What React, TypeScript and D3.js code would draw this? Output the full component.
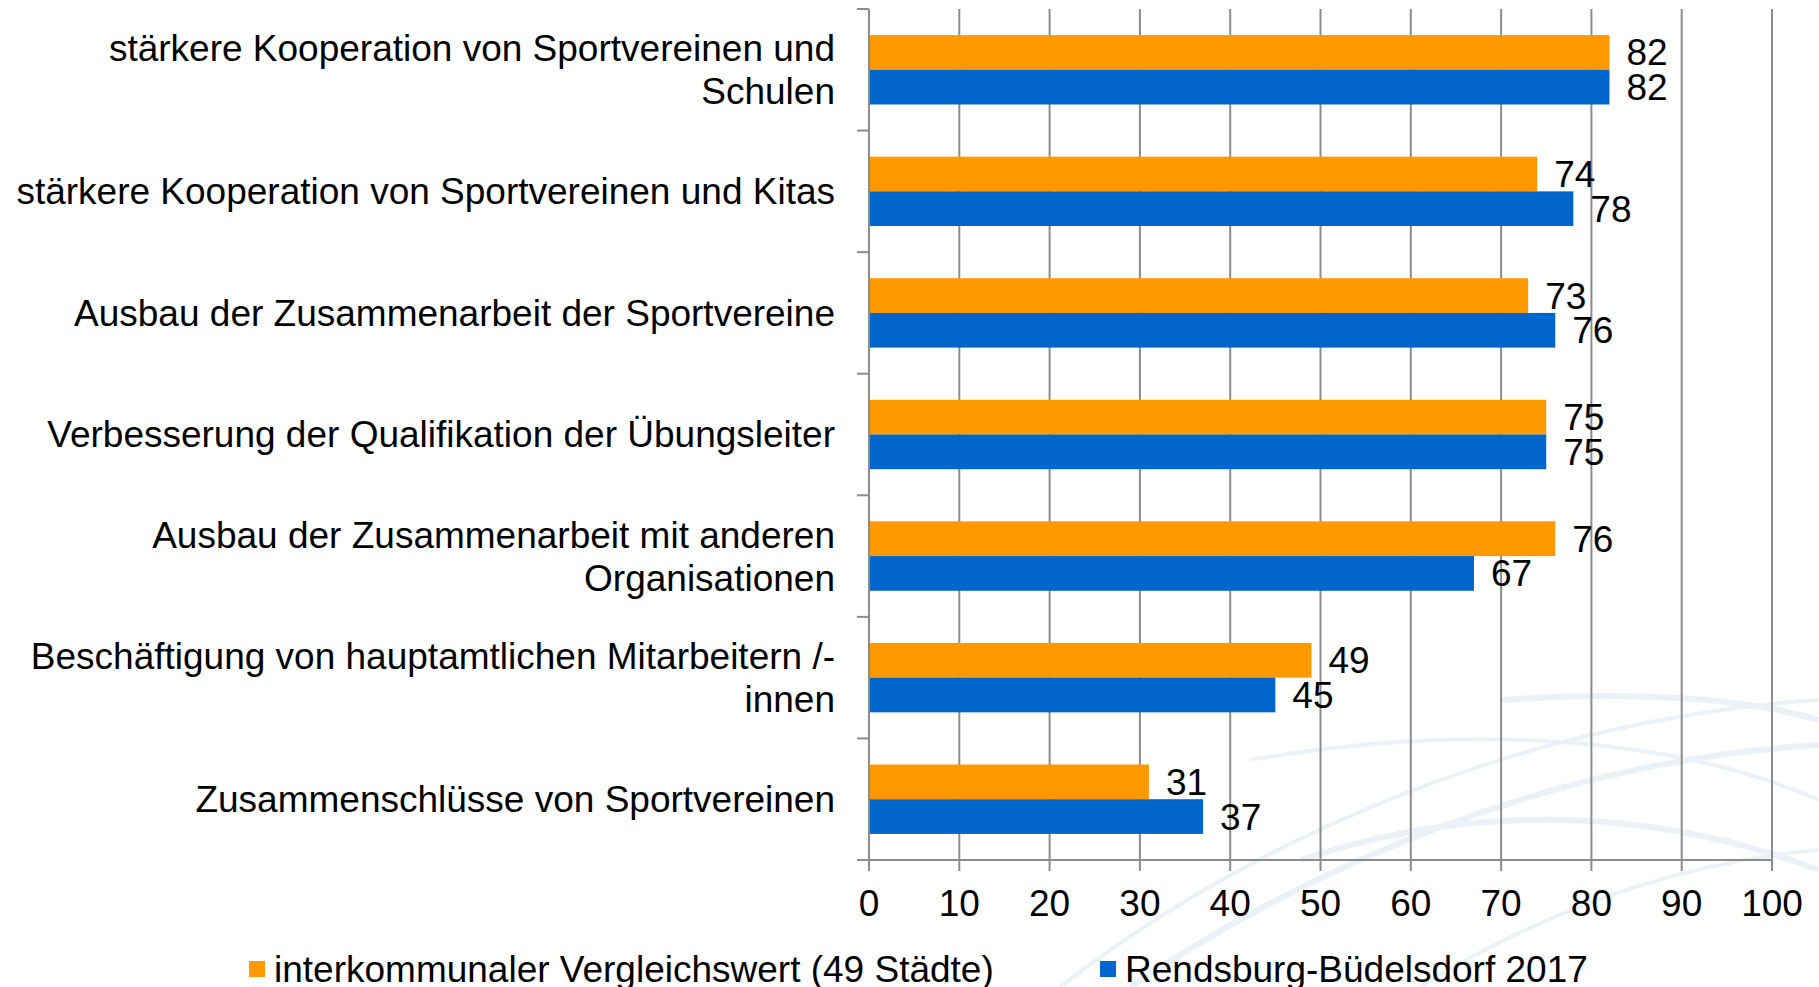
import React, { useEffect, useRef } from "react";
import * as d3 from "d3";

const categories: string[][] = [
  ["stärkere Kooperation von Sportvereinen und", "Schulen"],
  ["stärkere Kooperation von Sportvereinen und Kitas"],
  ["Ausbau der Zusammenarbeit der Sportvereine"],
  ["Verbesserung der Qualifikation der Übungsleiter"],
  ["Ausbau der Zusammenarbeit mit anderen", "Organisationen"],
  ["Beschäftigung von hauptamtlichen Mitarbeitern /-", "innen"],
  ["Zusammenschlüsse von Sportvereinen"],
];
const interkommunal = [82, 74, 73, 75, 76, 49, 31];
const rendsburg = [82, 78, 76, 75, 67, 45, 37];
const seriesNames = ["interkommunaler Vergleichswert (49 Städte)", "Rendsburg-Büdelsdorf 2017"];
const seriesColors = ["#FF9900", "#0066CC"];
const xTicks = [0, 10, 20, 30, 40, 50, 60, 70, 80, 90, 100];

const W = 1819;
const H = 987;
const FONT = "'Liberation Sans', Arial, sans-serif";
const FS = 37;

export default function App() {
  const ref = useRef<SVGSVGElement>(null);
  useEffect(() => {
    const svg = d3.select(ref.current);
    svg.selectAll("*").remove();

    // faint watermark curves
    const wm = svg.append("g").attr("fill", "none").attr("stroke", "#d3e3ef").attr("opacity", 0.45);
    const wmPaths = [
      "M1060,987 C1250,840 1520,720 1819,700",
      "M1130,987 C1320,860 1560,760 1819,745",
      "M1250,760 C1480,720 1680,740 1819,800",
      "M1300,860 C1480,800 1660,810 1819,870",
      "M1420,987 C1560,900 1700,860 1819,850",
      "M1500,700 C1650,690 1750,700 1819,720",
    ];
    wmPaths.forEach((d, i) => wm.append("path").attr("d", d).attr("stroke-width", i % 2 ? 6 : 4));

    const x0 = 869, x1 = 1772, yTop = 9, yBot = 860;
    const x = d3.scaleLinear().domain([0, 100]).range([x0, x1]);
    const y = d3.scaleBand<number>().domain(d3.range(categories.length)).range([yTop, yBot]).paddingInner(0).paddingOuter(0);
    const bw = y.bandwidth();
    const barH = 34.7;
    const inner = d3.scaleBand<number>().domain([0, 1]).range([(bw - 2 * barH) / 2, (bw + 2 * barH) / 2]);

    const g = svg.append("g");
    // gridlines
    g.selectAll("line.grid").data(xTicks.slice(1)).join("line")
      .attr("x1", (d) => x(d)).attr("x2", (d) => x(d))
      .attr("y1", yTop).attr("y2", yBot + 11)
      .attr("stroke", "#8c8c8c").attr("stroke-width", 2);

    // bars
    const series = [interkommunal, rendsburg];
    series.forEach((vals, si) => {
      g.selectAll(`rect.s${si}`).data(vals).join("rect")
        .attr("x", x0)
        .attr("y", (_, i) => (y(i) as number) + (inner(si) as number))
        .attr("width", (d) => x(d) - x0)
        .attr("height", inner.bandwidth())
        .attr("fill", seriesColors[si]);
      g.selectAll(`text.v${si}`).data(vals).join("text")
        .attr("x", (d) => x(d) + 17)
        .attr("y", (_, i) => (y(i) as number) + (inner(si) as number) + inner.bandwidth() / 2)
        .attr("dy", "0.35em")
        .attr("font-family", FONT).attr("font-size", FS).attr("fill", "#000")
        .text((d) => String(d));
    });

    // axes lines
    g.append("line").attr("x1", x0).attr("x2", x0).attr("y1", yTop).attr("y2", yBot + 11)
      .attr("stroke", "#8c8c8c").attr("stroke-width", 2);
    g.append("line").attr("x1", x0).attr("x2", x1).attr("y1", yBot).attr("y2", yBot)
      .attr("stroke", "#8c8c8c").attr("stroke-width", 2);
    // y ticks
    g.selectAll("line.yt").data(d3.range(categories.length + 1)).join("line")
      .attr("x1", x0 - 12).attr("x2", x0)
      .attr("y1", (i) => yTop + i * bw).attr("y2", (i) => yTop + i * bw)
      .attr("stroke", "#8c8c8c").attr("stroke-width", 2);
    // x tick labels
    g.selectAll("text.xt").data(xTicks).join("text")
      .attr("x", (d) => x(d)).attr("y", 903).attr("dy", "0.35em")
      .attr("text-anchor", "middle")
      .attr("font-family", FONT).attr("font-size", FS).attr("fill", "#000")
      .text((d) => String(d));

    // category labels
    categories.forEach((lines, i) => {
      const cy = (y(i) as number) + bw / 2;
      const lh = 43;
      const t = g.append("text").attr("text-anchor", "end")
        .attr("font-family", FONT).attr("font-size", FS).attr("fill", "#000");
      lines.forEach((ln, j) => {
        t.append("tspan").attr("x", 835)
          .attr("y", cy + (j - (lines.length - 1) / 2) * lh)
          .attr("dy", "0.35em").text(ln);
      });
    });

    // legend
    const legX = [249, 1100];
    seriesNames.forEach((name, i) => {
      g.append("rect").attr("x", legX[i]).attr("y", 961).attr("width", 16).attr("height", 16).attr("fill", seriesColors[i]);
      g.append("text").attr("x", legX[i] + 25).attr("y", 969).attr("dy", "0.35em")
        .attr("font-family", FONT).attr("font-size", FS).attr("fill", "#000").text(name);
    });
  }, []);
  return (
    <svg ref={ref} width={W} height={H} style={{ position: "absolute", left: 0, top: 0, background: "#fff" }} />
  );
}
